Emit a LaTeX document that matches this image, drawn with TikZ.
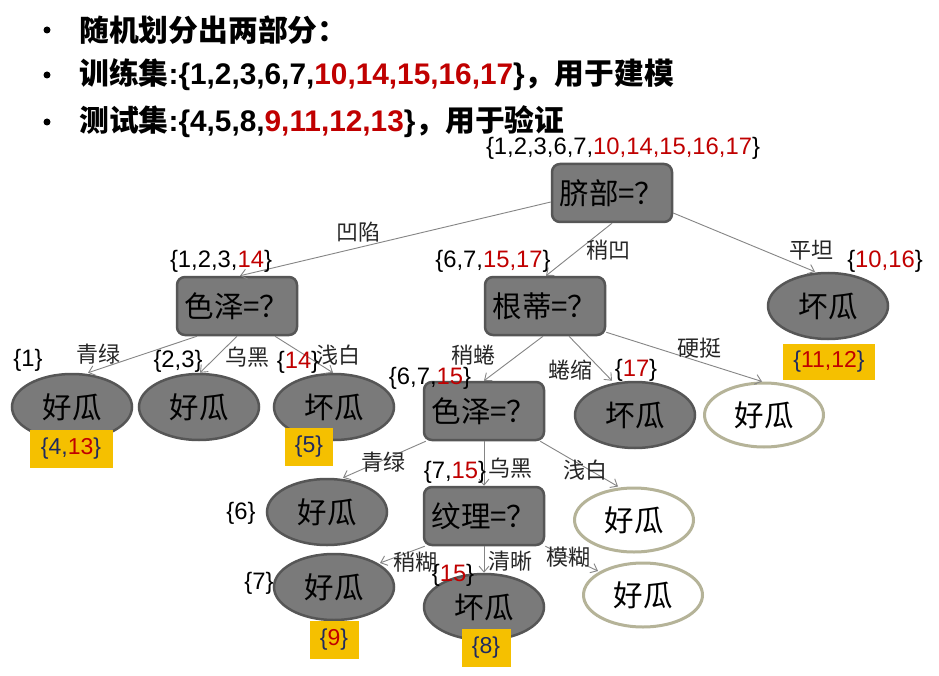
\documentclass[tikz,border=0pt]{standalone}
\usepackage{fontspec}
\setmainfont{Liberation Sans}
\newfontfamily\cjk{Noto Sans CJK SC}
\usetikzlibrary{shapes.geometric,arrows.meta,calc}
\definecolor{nodefill}{HTML}{7A7A7A}
\definecolor{nodeline}{HTML}{565656}
\definecolor{olive}{HTML}{B5B398}
\definecolor{ybg}{HTML}{F5C000}
\definecolor{rd}{HTML}{C00000}
\definecolor{nv}{HTML}{1F2A60}
\definecolor{edgec}{HTML}{858585}
\newcommand{\R}[1]{\textcolor{rd}{#1}}
\tikzset{
  qbox/.style={rectangle, rounded corners=8pt, fill=nodefill, draw=nodeline, line width=2.5pt,
    minimum width=120pt, minimum height=58pt, inner sep=0pt, font=\cjk\fontsize{29.5pt}{31pt}\selectfont},
  leaf/.style={ellipse, fill=nodefill, draw=nodeline, line width=2.5pt,
    minimum width=120pt, minimum height=66pt, inner sep=0pt, font=\cjk\fontsize{29.5pt}{31pt}\selectfont},
  wleaf/.style={ellipse, fill=white, draw=olive, line width=3pt,
    minimum width=119pt, minimum height=64pt, inner sep=0pt, font=\cjk\fontsize{29.5pt}{31pt}\selectfont},
  ybox/.style={rectangle, fill=ybg, inner sep=0pt, minimum height=38pt, text=nv,
    font=\fontsize{23pt}{25pt}\selectfont},
  setlab/.style={inner sep=0pt, font=\fontsize{23.8pt}{25pt}\selectfont},
  elab/.style={inner sep=0pt, text=black!85, font=\cjk\fontsize{22pt}{24pt}\selectfont},
  edge/.style={draw=edgec, line width=0.9pt, -{Straight Barb[length=6pt,width=10pt,line width=0.9pt]}},
  bul/.style={inner sep=0pt, anchor=west, font=\bfseries\fontsize{29.8pt}{32pt}\selectfont},
  dot/.style={circle, fill=black, inner sep=0pt, minimum size=7pt},
}
\begin{document}
\begin{tikzpicture}[x=1pt,y=-1pt]
\useasboundingbox[fill=white] (0,0) rectangle (939,676);
% bullets
\node[dot] (b1dot) at (47,30) {};
\node[dot] (b2dot) at (47,75) {};
\node[dot] (b3dot) at (47,122) {};
\node[bul] (l1) at (79,30) {\cjk\bfseries 随机划分出两部分：};
\node[bul] (l2) at (79,75) {{\cjk\bfseries 训练集}:\{1,2,3,6,7,\R{10,14,15,16,17}\}{\cjk\bfseries ，用于建模}};
\node[bul] (l3) at (79,122) {{\cjk\bfseries 测试集}:\{4,5,8,\R{9,11,12,13}\}{\cjk\bfseries ，用于验证}};

% decision nodes
\node[qbox] (root) at (612,193) {脐部=？};
\node[qbox] (c1) at (237,306) {色泽=？};
\node[qbox] (g1) at (545,306) {根蒂=？};
\node[qbox] (c2) at (484,411) {色泽=？};
\node[qbox] (t) at (484,516) {纹理=？};

% leaves
\node[leaf] (r1) at (828,306) {坏瓜};
\node[leaf] (a1) at (72,407) {好瓜};
\node[leaf] (a2) at (199,407) {好瓜};
\node[leaf] (a3) at (334,407) {坏瓜};
\node[leaf] (b1) at (635,415) {坏瓜};
\node[wleaf] (b2) at (764,415) {好瓜};
\node[leaf] (d1) at (327,512) {好瓜};
\node[wleaf] (d3) at (634,520) {好瓜};
\node[leaf] (e1) at (334,587) {好瓜};
\node[leaf] (e2) at (484,607) {坏瓜};
\node[wleaf] (e3) at (643,595) {好瓜};

% edges
\draw[edge] ($(root.west)+(0,9)$) -- ($(c1.north)+(3,0)$);
\draw[edge] (root.south) -- ($(g1.north)+(1,0)$);
\draw[edge] ($(root.east)+(0,20)$) -- ($(r1.north)+(-13,0)$);
\draw[edge] ($(c1.south)+(-40,0)$) -- ($(a1.north)+(16,0)$);
\draw[edge] (c1.south) -- ($(a2.north)+(1,0)$);
\draw[edge] ($(c1.south)+(38,0)$) -- ($(a3.north)+(-1,0)$);
\draw[edge] ($(g1.south)+(-2,0)$) -- (c2.north);
\draw[edge] ($(g1.south)+(24,0)$) -- ($(b1.north)+(-23,0)$);
\draw[edge] ($(g1.south east)+(0,-4)$) -- ($(b2.north)+(-2,0)$);
\draw[edge] ($(c2.south west)+(3,0)$) -- ($(d1.north)+(16,0)$);
\draw[edge] (c2.south) -- (t.north);
\draw[edge] ($(c2.south east)+(-5,0)$) -- ($(d3.north)+(-16,0)$);
\draw[edge] ($(t.south west)+(2,0)$) -- ($(e1.center)+(46,-24)$);
\draw[edge] (t.south) -- (e2.north);
\draw[edge] (t.south east) -- ($(e3.center)+(-45,-24)$);

% edge labels
\node[elab] (la) at (358,232) {凹陷};
\node[elab] (lb) at (608,250) {稍凹};
\node[elab] (lc) at (811,250) {平坦};
\node[elab] (ld) at (98,354) {青绿};
\node[elab] (le) at (247,357) {乌黑};
\node[elab] (lf) at (338,355) {浅白};
\node[elab] (lg) at (473,355) {稍蜷};
\node[elab] (lh) at (570,370) {蜷缩};
\node[elab] (li) at (699,348) {硬挺};
\node[elab] (lj) at (383,462) {青绿};
\node[elab] (lk) at (510,468) {乌黑};
\node[elab] (ll) at (585,470) {浅白};
\node[elab] (lm) at (415,562) {稍糊};
\node[elab] (ln) at (510,561) {清晰};
\node[elab] (lo) at (568,557) {模糊};

% set labels
\node[setlab] (s0) at (623,148) {\{1,2,3,6,7,\R{10,14,15,16,17}\}};
\node[setlab] (s1) at (221,261) {\{1,2,3,\R{14}\}};
\node[setlab] (s2) at (493,261) {\{6,7,\R{15,17}\}};
\node[setlab] (s3) at (885,261) {\{\R{10,16}\}};
\node[setlab] (s4) at (28,360) {\{1\}};
\node[setlab] (s5) at (178,361) {\{2,3\}};
\node[setlab] (s6) at (298,362) {\{\R{14}\}};
\node[setlab] (s7) at (430,378) {\{6,7,\R{15}\}};
\node[setlab] (s8) at (636,370) {\{\R{17}\}};
\node[setlab] (s9) at (455,472) {\{7,\R{15}\}};
\node[setlab] (s10) at (241,513) {\{6\}};
\node[setlab] (s11) at (259,583) {\{7\}};
\node[setlab] (s12) at (453,575) {\{\R{15}\}};

% yellow test-set boxes
\node[ybox, minimum width=92pt, minimum height=36pt] (y1) at (829,362) {\{\R{11,12}\}};
\node[ybox, minimum width=83pt] (y2) at (71,449) {\{4,\R{13}\}};
\node[ybox, minimum width=48pt] (y3) at (309,447) {\{5\}};
\node[ybox, minimum width=49pt] (y4) at (334,640) {\{\R{9}\}};
\node[ybox, minimum width=49pt] (y5) at (486,648) {\{8\}};
\end{tikzpicture}
\end{document}
